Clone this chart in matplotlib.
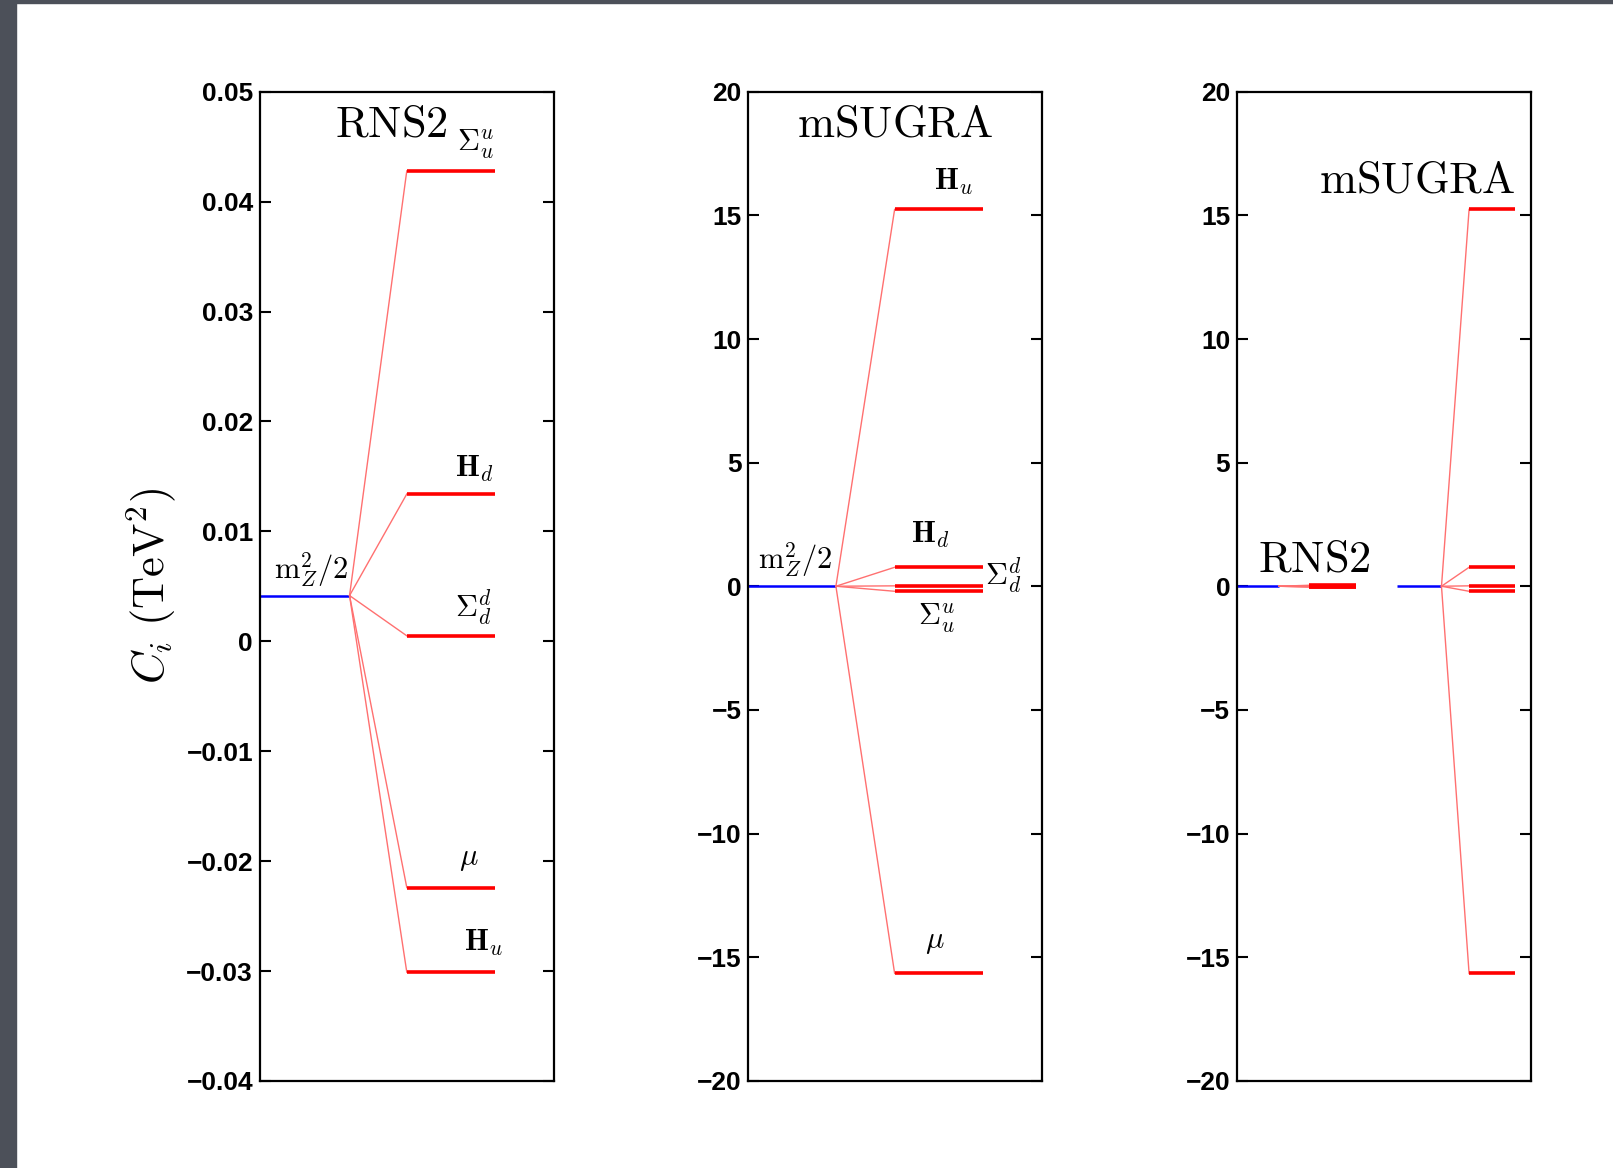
import matplotlib
matplotlib.use("Agg")
import matplotlib.pyplot as plt
from matplotlib.patches import Rectangle

plt.rcParams["mathtext.fontset"] = "cm"
plt.rcParams["font.family"] = ["Liberation Sans", "DejaVu Sans"]

# contributions C_i (TeV^2)
mz2_half = 0.00416
rns2_labels = [r"$\Sigma_u^u$", r"$\mathbf{H}_d$", r"$\Sigma_d^d$", r"$\mu$", r"$\mathbf{H}_u$"]
rns2_vals = [0.0428, 0.0134, 0.0005, -0.0224, -0.0301]
msugra_labels = [r"$\mathbf{H}_u$", r"$\mathbf{H}_d$", r"$\Sigma_d^d$", r"$\Sigma_u^u$", r"$\mu$"]
msugra_vals = [15.24, 0.77, 0.02, -0.20, -15.65]

rns2_ticks = [-0.04, -0.03, -0.02, -0.01, 0, 0.01, 0.02, 0.03, 0.04, 0.05]
rns2_ticklabels = ["\u22120.04", "\u22120.03", "\u22120.02", "\u22120.01", "0",
                   "0.01", "0.02", "0.03", "0.04", "0.05"]
msugra_ticks = [-20, -15, -10, -5, 0, 5, 10, 15, 20]
msugra_ticklabels = ["\u221220", "\u221215", "\u221210", "\u22125", "0", "5", "10", "15", "20"]

BLUE = "#0000ff"
RED = "#ff0000"
DIAG = "#ff7070"


def draw_fan(ax, x0, x1, x2, x3, base, vals):
    ax.plot([x0, x1], [base, base], color=BLUE, lw=1.8, solid_capstyle="butt")
    for v in vals:
        ax.plot([x1, x2], [base, v], color=DIAG, lw=1.0)
        ax.plot([x2, x3], [v, v], color=RED, lw=2.6, solid_capstyle="butt")


def style_axis(ax, ylim, ticks, ticklabels):
    ax.set_xlim(0, 1)
    ax.set_ylim(*ylim)
    ax.set_xticks([])
    ax.set_yticks(ticks)
    ax.set_yticklabels(ticklabels, fontsize=19, fontweight="bold")
    ax.tick_params(axis="y", direction="in", length=8, width=1.5, right=True, pad=5)
    for s in ax.spines.values():
        s.set_linewidth(1.6)


def label(ax, txt, x, y, dy, ha="center", size=22):
    ax.annotate(txt, xy=(x, y), xycoords=("axes fraction", "data"),
                xytext=(0, dy), textcoords="offset points",
                ha=ha, va="center", fontsize=size)


fig = plt.figure(figsize=(16.13, 11.68), dpi=100)
fig.patches.append(Rectangle((0, 0), 16 / 1613, 1, transform=fig.transFigure,
                             color="#4c5059", zorder=-1))
fig.patches.append(Rectangle((0, 1 - 3 / 1168), 1, 3 / 1168, transform=fig.transFigure,
                             color="#4c5059", zorder=-1))

h = 0.847
b = 0.0745
w = 0.182
ax1 = fig.add_axes([0.1612, b, w, h])
ax2 = fig.add_axes([0.4640, b, w, h])
ax3 = fig.add_axes([0.7670, b, w, h])

# panel 1: RNS2
draw_fan(ax1, 0.0, 0.305, 0.5, 0.8, mz2_half, rns2_vals)
style_axis(ax1, (-0.04, 0.05), rns2_ticks, rns2_ticklabels)
ax1.text(0.449, 0.966, r"$\mathrm{RNS2}$", transform=ax1.transAxes,
         ha="center", va="center", fontsize=32)
rns2_pos = [(0.733, 19), (0.73, 18), (0.726, 20), (0.712, 21), (0.76, 21)]
for txt, v, (x, dy) in zip(rns2_labels, rns2_vals, rns2_pos):
    label(ax1, txt, x, v, dy)
label(ax1, r"$\mathrm{m}_Z^2/2$", 0.175, mz2_half, 19)
ax1.set_ylabel(r"$C_i\ (\mathrm{TeV}^2)$", fontsize=32)
ax1.yaxis.set_label_coords(-0.28, 0.5)

# panel 2: mSUGRA
draw_fan(ax2, 0.0, 0.298, 0.498, 0.799, mz2_half, msugra_vals)
style_axis(ax2, (-20, 20), msugra_ticks, msugra_ticklabels)
ax2.text(0.5, 0.966, r"$\mathrm{mSUGRA}$", transform=ax2.transAxes,
         ha="center", va="center", fontsize=32)
msugra_pos = [(0.70, 20, "center"), (0.62, 23, "center"), (0.805, 7, "left"),
              (0.64, -19, "center"), (0.636, 23, "center")]
for txt, v, (x, dy, ha) in zip(msugra_labels, msugra_vals, msugra_pos):
    label(ax2, txt, x, v, dy, ha=ha)
label(ax2, r"$\mathrm{m}_Z^2/2$", 0.16, mz2_half, 19)

# panel 3: both on the same scale
draw_fan(ax3, 0.0, 0.142, 0.243, 0.405, mz2_half, rns2_vals)
draw_fan(ax3, 0.544, 0.696, 0.79, 0.945, mz2_half, msugra_vals)
style_axis(ax3, (-20, 20), msugra_ticks, msugra_ticklabels)
ax3.text(0.612, 0.91, r"$\mathrm{mSUGRA}$", transform=ax3.transAxes,
         ha="center", va="center", fontsize=32)
ax3.text(0.262, 0.527, r"$\mathrm{RNS2}$", transform=ax3.transAxes,
         ha="center", va="center", fontsize=32)

fig.savefig("out.png", dpi=100)
